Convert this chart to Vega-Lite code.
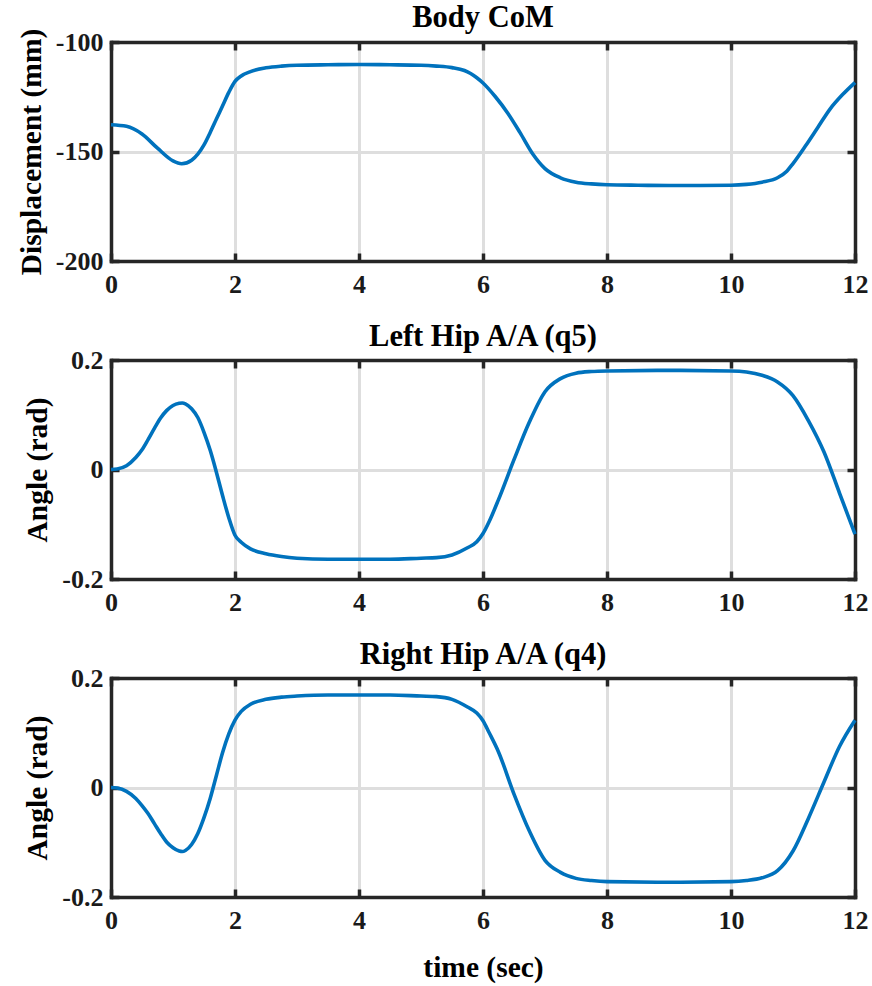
{
  "$schema": "https://vega.github.io/schema/vega-lite/v6.json",
  "background": "white",
  "padding": {"left": 16, "top": 2, "right": 4, "bottom": 2},
  "spacing": 24,
  "config": {
    "view": {"stroke": null},
    "font": "Liberation Serif",
    "style": {"guide-label": {"font": "Liberation Serif", "fontWeight": "bold", "fontSize": 26}, "guide-title": {"font": "Liberation Serif", "fontWeight": "bold"}},
    "title": {"font": "Liberation Serif", "fontSize": 30.5, "fontWeight": "bold", "color": "#000000", "offset": -5},
    "axis": {
      "labelFont": "Liberation Serif", "labelFontSize": 26, "labelFontWeight": "bold", "labelColor": "#1a1a1a",
      "titleFont": "Liberation Serif", "titleFontSize": 29.5, "titleFontWeight": "bold", "titleColor": "#000000",
      "gridColor": "#dedede", "gridWidth": 3, "gridOpacity": 1,
      "domainColor": "#262626", "domainWidth": 3.5, "domainCap": "square",
      "tickColor": "#262626", "tickWidth": 3.5, "tickSize": -8,
      "labelFlush": false, "labelOverlap": false, "zindex": 1,
      "labelExpr": "replace(datum.label, '−', '-')"
    }
  },
  "datasets": {
    "com": [
      {"t": 0, "v": -137.8}, {"t": 0.25, "v": -138.5}, {"t": 0.5, "v": -142}, {"t": 0.75, "v": -148.5},
      {"t": 1.0, "v": -154.3}, {"t": 1.14, "v": -155.6}, {"t": 1.3, "v": -154}, {"t": 1.4, "v": -151.2},
      {"t": 1.5, "v": -147}, {"t": 1.6, "v": -141.3}, {"t": 1.7, "v": -135.2}, {"t": 1.8, "v": -129.1},
      {"t": 1.9, "v": -123}, {"t": 2.0, "v": -118}, {"t": 2.1, "v": -115.5}, {"t": 2.25, "v": -113.5},
      {"t": 2.5, "v": -111.8}, {"t": 2.75, "v": -111}, {"t": 3.0, "v": -110.6}, {"t": 3.5, "v": -110.4},
      {"t": 4.0, "v": -110.3}, {"t": 4.5, "v": -110.4}, {"t": 5.0, "v": -110.6}, {"t": 5.25, "v": -111},
      {"t": 5.5, "v": -111.7}, {"t": 5.7, "v": -113}, {"t": 5.8, "v": -114.4}, {"t": 5.9, "v": -116.3},
      {"t": 6.0, "v": -118.7}, {"t": 6.2, "v": -125}, {"t": 6.4, "v": -132.5}, {"t": 6.6, "v": -141.5},
      {"t": 6.8, "v": -151}, {"t": 7.0, "v": -157.8}, {"t": 7.25, "v": -162}, {"t": 7.5, "v": -164},
      {"t": 7.75, "v": -164.8}, {"t": 8.0, "v": -165.2}, {"t": 8.5, "v": -165.4}, {"t": 9.0, "v": -165.5},
      {"t": 9.5, "v": -165.5}, {"t": 10.0, "v": -165.4}, {"t": 10.25, "v": -165}, {"t": 10.5, "v": -164},
      {"t": 10.75, "v": -162}, {"t": 10.9, "v": -159}, {"t": 11.0, "v": -155.5}, {"t": 11.2, "v": -147.5},
      {"t": 11.4, "v": -139}, {"t": 11.6, "v": -130.5}, {"t": 11.8, "v": -124}, {"t": 12.0, "v": -118.5}
    ],
    "q5": [
      {"t": 0, "v": 0}, {"t": 0.1, "v": 0.001}, {"t": 0.25, "v": 0.007}, {"t": 0.4, "v": 0.022},
      {"t": 0.5, "v": 0.036}, {"t": 0.6, "v": 0.055}, {"t": 0.7, "v": 0.075}, {"t": 0.8, "v": 0.094},
      {"t": 0.9, "v": 0.108}, {"t": 1.0, "v": 0.117}, {"t": 1.1, "v": 0.121}, {"t": 1.15, "v": 0.1215},
      {"t": 1.2, "v": 0.12}, {"t": 1.3, "v": 0.111}, {"t": 1.4, "v": 0.095}, {"t": 1.5, "v": 0.068},
      {"t": 1.6, "v": 0.035}, {"t": 1.7, "v": -0.005}, {"t": 1.8, "v": -0.048}, {"t": 1.9, "v": -0.088},
      {"t": 2.0, "v": -0.12}, {"t": 2.1, "v": -0.133}, {"t": 2.25, "v": -0.145}, {"t": 2.5, "v": -0.154},
      {"t": 2.75, "v": -0.159}, {"t": 3.0, "v": -0.162}, {"t": 3.5, "v": -0.164}, {"t": 4.0, "v": -0.164},
      {"t": 4.5, "v": -0.164}, {"t": 5.0, "v": -0.162}, {"t": 5.25, "v": -0.161}, {"t": 5.5, "v": -0.156},
      {"t": 5.75, "v": -0.143}, {"t": 5.9, "v": -0.132}, {"t": 6.0, "v": -0.117}, {"t": 6.1, "v": -0.095},
      {"t": 6.25, "v": -0.055}, {"t": 6.5, "v": 0.018}, {"t": 6.75, "v": 0.087}, {"t": 7.0, "v": 0.142},
      {"t": 7.25, "v": 0.166}, {"t": 7.5, "v": 0.176}, {"t": 7.75, "v": 0.179}, {"t": 8.0, "v": 0.18},
      {"t": 9.0, "v": 0.181}, {"t": 10.0, "v": 0.18}, {"t": 10.25, "v": 0.178}, {"t": 10.5, "v": 0.172},
      {"t": 10.75, "v": 0.16}, {"t": 11.0, "v": 0.135}, {"t": 11.25, "v": 0.089}, {"t": 11.5, "v": 0.032},
      {"t": 11.75, "v": -0.043}, {"t": 12.0, "v": -0.118}
    ],
    "q4": [
      {"t": 0, "v": 0}, {"t": 0.1, "v": -0.001}, {"t": 0.25, "v": -0.007}, {"t": 0.4, "v": -0.02},
      {"t": 0.5, "v": -0.033}, {"t": 0.6, "v": -0.048}, {"t": 0.7, "v": -0.066}, {"t": 0.8, "v": -0.084},
      {"t": 0.9, "v": -0.1}, {"t": 1.0, "v": -0.11}, {"t": 1.1, "v": -0.116}, {"t": 1.15, "v": -0.117},
      {"t": 1.2, "v": -0.115}, {"t": 1.3, "v": -0.104}, {"t": 1.4, "v": -0.084}, {"t": 1.5, "v": -0.055},
      {"t": 1.6, "v": -0.02}, {"t": 1.7, "v": 0.022}, {"t": 1.8, "v": 0.064}, {"t": 1.9, "v": 0.098},
      {"t": 2.0, "v": 0.123}, {"t": 2.1, "v": 0.139}, {"t": 2.25, "v": 0.152}, {"t": 2.5, "v": 0.161},
      {"t": 2.75, "v": 0.165}, {"t": 3.0, "v": 0.167}, {"t": 3.5, "v": 0.169}, {"t": 4.0, "v": 0.169},
      {"t": 4.5, "v": 0.169}, {"t": 5.0, "v": 0.167}, {"t": 5.25, "v": 0.166}, {"t": 5.5, "v": 0.161},
      {"t": 5.75, "v": 0.147}, {"t": 5.9, "v": 0.136}, {"t": 6.0, "v": 0.122}, {"t": 6.1, "v": 0.1},
      {"t": 6.25, "v": 0.065}, {"t": 6.5, "v": -0.012}, {"t": 6.75, "v": -0.08}, {"t": 7.0, "v": -0.133},
      {"t": 7.25, "v": -0.155}, {"t": 7.5, "v": -0.166}, {"t": 7.75, "v": -0.17}, {"t": 8.0, "v": -0.172},
      {"t": 9.0, "v": -0.173}, {"t": 10.0, "v": -0.172}, {"t": 10.25, "v": -0.17}, {"t": 10.5, "v": -0.165},
      {"t": 10.75, "v": -0.152}, {"t": 11.0, "v": -0.116}, {"t": 11.25, "v": -0.056}, {"t": 11.5, "v": 0.01},
      {"t": 11.75, "v": 0.075}, {"t": 12.0, "v": 0.123}
    ]
  },
  "vconcat": [
    {
      "width": 744, "height": 219,
      "title": "Body CoM",
      "data": {"name": "com"},
      "layer": [
        {
          "mark": {"type": "line", "color": "#0072BD", "strokeWidth": 3.6, "interpolate": "monotone"},
          "encoding": {
            "x": {"field": "t", "type": "quantitative", "scale": {"domain": [0, 12], "nice": false, "zero": false},
                  "axis": {"orient": "bottom", "values": [0, 2, 4, 6, 8, 10, 12], "title": null, "grid": true, "labelPadding": 18, "labelFont": "Liberation Serif", "labelFontWeight": "bold"}},
            "y": {"field": "v", "type": "quantitative", "scale": {"domain": [-200, -100], "nice": false, "zero": false},
                  "axis": {"orient": "left", "values": [-200, -150, -100], "title": "Displacement (mm)", "grid": true, "labelPadding": 16, "titlePadding": 9, "labelFont": "Liberation Serif", "labelFontWeight": "bold"}}
          }
        },
        {
          "mark": {"type": "line", "strokeOpacity": 0},
          "encoding": {
            "x": {"field": "t", "type": "quantitative", "axis": {"orient": "top", "values": [0, 2, 4, 6, 8, 10, 12], "labels": false, "title": null, "grid": false}},
            "y": {"field": "v", "type": "quantitative", "axis": {"orient": "right", "values": [-200, -150, -100], "labels": false, "title": null, "grid": false}}
          }
        }
      ],
      "resolve": {"axis": {"x": "independent", "y": "independent"}}
    },
    {
      "width": 744, "height": 219,
      "title": "Left Hip A/A (q5)",
      "data": {"name": "q5"},
      "layer": [
        {
          "mark": {"type": "line", "color": "#0072BD", "strokeWidth": 3.6, "interpolate": "monotone"},
          "encoding": {
            "x": {"field": "t", "type": "quantitative", "scale": {"domain": [0, 12], "nice": false, "zero": false},
                  "axis": {"orient": "bottom", "values": [0, 2, 4, 6, 8, 10, 12], "title": null, "grid": true, "labelPadding": 18, "labelFont": "Liberation Serif", "labelFontWeight": "bold"}},
            "y": {"field": "v", "type": "quantitative", "scale": {"domain": [-0.2, 0.2], "nice": false, "zero": false},
                  "axis": {"orient": "left", "values": [-0.2, 0, 0.2], "format": "~g", "title": "Angle (rad)", "grid": true, "labelPadding": 16, "titlePadding": 9, "labelFont": "Liberation Serif", "labelFontWeight": "bold"}}
          }
        },
        {
          "mark": {"type": "line", "strokeOpacity": 0},
          "encoding": {
            "x": {"field": "t", "type": "quantitative", "axis": {"orient": "top", "values": [0, 2, 4, 6, 8, 10, 12], "labels": false, "title": null, "grid": false}},
            "y": {"field": "v", "type": "quantitative", "axis": {"orient": "right", "values": [-0.2, 0, 0.2], "labels": false, "title": null, "grid": false}}
          }
        }
      ],
      "resolve": {"axis": {"x": "independent", "y": "independent"}}
    },
    {
      "width": 744, "height": 219,
      "title": "Right Hip A/A (q4)",
      "data": {"name": "q4"},
      "layer": [
        {
          "mark": {"type": "line", "color": "#0072BD", "strokeWidth": 3.6, "interpolate": "monotone"},
          "encoding": {
            "x": {"field": "t", "type": "quantitative", "scale": {"domain": [0, 12], "nice": false, "zero": false},
                  "axis": {"orient": "bottom", "values": [0, 2, 4, 6, 8, 10, 12], "title": "time (sec)", "grid": true, "labelPadding": 18, "titlePadding": 20, "labelFont": "Liberation Serif", "labelFontWeight": "bold"}},
            "y": {"field": "v", "type": "quantitative", "scale": {"domain": [-0.2, 0.2], "nice": false, "zero": false},
                  "axis": {"orient": "left", "values": [-0.2, 0, 0.2], "format": "~g", "title": "Angle (rad)", "grid": true, "labelPadding": 16, "titlePadding": 9, "labelFont": "Liberation Serif", "labelFontWeight": "bold"}}
          }
        },
        {
          "mark": {"type": "line", "strokeOpacity": 0},
          "encoding": {
            "x": {"field": "t", "type": "quantitative", "axis": {"orient": "top", "values": [0, 2, 4, 6, 8, 10, 12], "labels": false, "title": null, "grid": false}},
            "y": {"field": "v", "type": "quantitative", "axis": {"orient": "right", "values": [-0.2, 0, 0.2], "labels": false, "title": null, "grid": false}}
          }
        }
      ],
      "resolve": {"axis": {"x": "independent", "y": "independent"}}
    }
  ]
}
